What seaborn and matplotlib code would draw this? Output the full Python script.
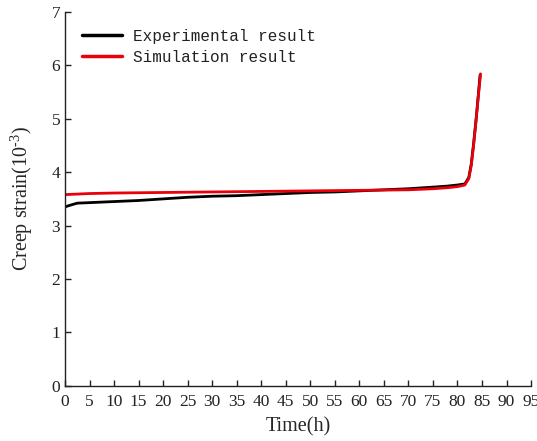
import matplotlib
matplotlib.use('Agg')
import matplotlib.pyplot as plt
import seaborn as sns
import pandas as pd

# experimental creep curve
exp_time = [0, 1, 2.5, 5, 10, 15, 20, 25, 30, 35, 40, 45, 50, 55, 60, 65, 70, 75, 78, 80, 81.5, 82.3, 82.8, 83.3, 83.8, 84.2, 84.6]
exp_strain = [3.35, 3.38, 3.42, 3.43, 3.45, 3.47, 3.50, 3.53, 3.55, 3.56, 3.58, 3.60, 3.62, 3.63, 3.65, 3.67, 3.69, 3.72, 3.74, 3.76, 3.78, 3.90, 4.15, 4.55, 5.00, 5.40, 5.82]

# simulated creep curve
sim_time = [0, 5, 10, 20, 30, 40, 50, 60, 70, 75, 78, 80, 81.5, 82.3, 82.8, 83.3, 83.8, 84.2, 84.7]
sim_strain = [3.58, 3.60, 3.61, 3.62, 3.63, 3.64, 3.65, 3.66, 3.67, 3.69, 3.71, 3.73, 3.76, 3.88, 4.12, 4.52, 4.98, 5.38, 5.84]

sns.set_style('ticks')
plt.rcParams['font.family'] = ['Liberation Serif', 'DejaVu Serif']
plt.rcParams['mathtext.fontset'] = 'custom'
plt.rcParams['mathtext.rm'] = 'Liberation Serif'

df = pd.concat([
    pd.DataFrame({'Time': exp_time, 'Strain': exp_strain, 'Series': 'Experimental result'}),
    pd.DataFrame({'Time': sim_time, 'Strain': sim_strain, 'Series': 'Simulation result'}),
])

fig = plt.figure(figsize=(5.37, 4.41), dpi=100)
ax = fig.add_axes([0.121, 0.125, 0.868, 0.848])
sns.lineplot(data=df, x='Time', y='Strain', hue='Series', sort=False,
             palette={'Experimental result': 'black', 'Simulation result': '#e8000b'},
             linewidth=2, ax=ax)

ax.set_xlim(0, 95)
ax.set_ylim(0, 7)
ax.set_xticks(range(0, 96, 5))
ax.set_yticks(range(0, 8))
ax.tick_params(direction='in', length=4, width=1, labelsize=12.5, colors='#222222')
ax.tick_params(axis='x', pad=6)
sns.despine(ax=ax)
for s in ['left', 'bottom']:
    ax.spines[s].set_linewidth(1)
    ax.spines[s].set_color('#222222')

ax.set_xlabel('Time(h)', fontsize=14.5, labelpad=5)
ax.set_ylabel('Creep strain(10$^{\\text{-}3}$)', fontsize=14.5, labelpad=12)

leg = ax.legend(loc='upper left', frameon=False, bbox_to_anchor=(0.0, 1.0),
                prop={'family': 'Liberation Mono', 'size': 11.5},
                handlelength=2.5, handletextpad=0.7, labelspacing=0.4, borderaxespad=0.65)
for line in leg.get_lines():
    line.set_linewidth(2.5)
for t in leg.get_texts():
    t.set_color('#222222')

fig.savefig('out.png', dpi=100)
